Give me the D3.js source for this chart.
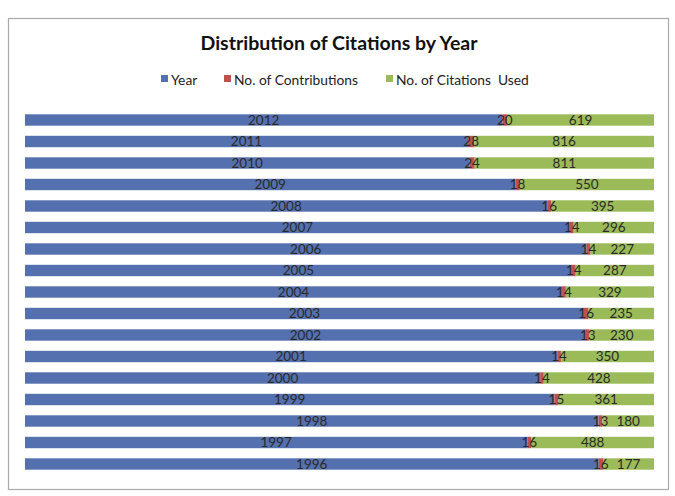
<!DOCTYPE html>
<html>
<head>
<meta charset="utf-8">
<script src="https://cdn.jsdelivr.net/npm/d3@7"></script>
<style>
  html, body { margin: 0; padding: 0; background: #fff; }
  svg { display: block; }
  text { white-space: pre; }
</style>
</head>
<body>
<svg id="chart" width="675" height="496"></svg>
<script>
const years = [2012, 2011, 2010, 2009, 2008, 2007, 2006, 2005, 2004, 2003, 2002, 2001, 2000, 1999, 1998, 1997, 1996];
const contributions = [20, 28, 24, 18, 16, 14, 14, 14, 14, 16, 13, 14, 14, 15, 13, 16, 16];
const citations = [619, 816, 811, 550, 395, 296, 227, 287, 329, 235, 230, 350, 428, 361, 180, 488, 177];
const seriesNames = ["Year", "No. of Contributions", "No. of Citations  Used"];
const colors = ["#5470AE", "#C0504D", "#9BBB59"];

const rows = years.map((y, i) => ({ key: String(y), Year: y, Contrib: contributions[i], Cites: citations[i] }));
const keys = ["Year", "Contrib", "Cites"];

const svg = d3.select("#chart");
const font = "Lato, 'Open Sans', 'Liberation Sans', sans-serif";

// frame
svg.append("rect").attr("x", 8.5).attr("y", 18.5).attr("width", 660).attr("height", 471)
  .attr("fill", "#fff").attr("stroke", "#a9a9a9").attr("stroke-width", 1.2);

// title
svg.append("text").attr("x", 339).attr("y", 50).attr("text-anchor", "middle")
  .attr("font-family", font).attr("font-weight", "bold").attr("font-size", 19.5)
  .attr("fill", "#111").text("Distribution of Citations by Year");

// legend
const legendX = [161, 224, 386];
const lg = svg.append("g").attr("font-family", font).attr("font-size", 13.8).attr("fill", "#222");
seriesNames.forEach((n, i) => {
  lg.append("rect").attr("x", legendX[i]).attr("y", 75).attr("width", 7).attr("height", 7).attr("fill", colors[i]);
  lg.append("text").attr("x", legendX[i] + 10).attr("y", 84.5).text(n);
});

const stacked = d3.stack().keys(keys).offset(d3.stackOffsetExpand)(rows);

const x = d3.scaleLinear().domain([0, 1]).range([25, 654]);
const y = d3.scaleBand().domain(rows.map(d => d.key)).range([109.25, 474.75]).paddingInner(0.47).paddingOuter(0.235);

const g = svg.append("g");
stacked.forEach((layer, li) => {
  g.append("g").selectAll("rect").data(layer).join("rect")
    .attr("x", d => x(d[0]))
    .attr("y", d => y(d.data.key))
    .attr("width", d => x(d[1]) - x(d[0]))
    .attr("height", y.bandwidth())
    .attr("fill", colors[li]);
});

// labels
const labels = svg.append("g").attr("font-family", font).attr("font-size", 13.5).attr("fill", "#2a2a2a").attr("text-anchor", "middle");
stacked.forEach((layer, li) => {
  labels.append("g").selectAll("text").data(layer).join("text")
    .attr("x", d => (x(d[0]) + x(d[1])) / 2)
    .attr("y", d => y(d.data.key) + y.bandwidth() / 2)
    .attr("dy", "0.36em")
    .text(d => d.data[keys[li]]);
});
</script>
</body>
</html>
